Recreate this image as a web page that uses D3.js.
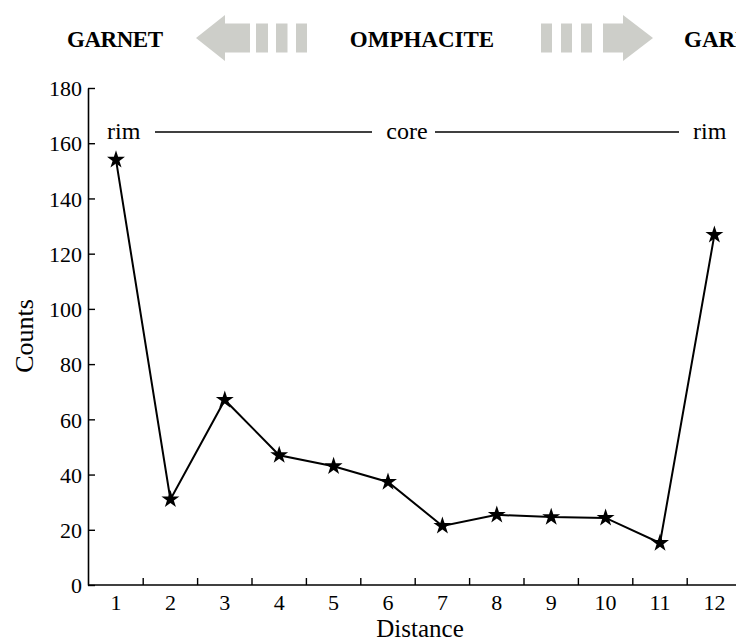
<!DOCTYPE html>
<html><head><meta charset="utf-8">
<script src="https://cdn.jsdelivr.net/npm/d3@7/dist/d3.min.js"></script>
<style>
html,body{margin:0;padding:0;background:#fff;overflow:hidden;}
svg{display:block;}
svg text{font-family:"Liberation Serif","Times New Roman",Times,serif !important;}
</style></head>
<body><svg id="c" width="736" height="641"></svg>
<script>
const distances = [1,2,3,4,5,6,7,8,9,10,11,12];
const counts = [154,31,67,47,43,37.3,21.4,25.4,24.6,24.3,15.2,126.8];
const yTicks = [0,20,40,60,80,100,120,140,160,180];
const headerLabels = ["GARNET","OMPHACITE","GARNET"];
const zoneLabels = ["rim","core","rim"];
const xTitle = "Distance", yTitle = "Counts";

const svg = d3.select("#c");
const mLeft = 88, mBottom = 585, mTop = 88;
const band = 54.4;
const x = d3.scaleBand().domain(distances).range([mLeft + 0.8, mLeft + 0.8 + band*distances.length]).paddingInner(0).paddingOuter(0);
const y = d3.scaleLinear().domain([0,180]).range([mBottom, mTop]);

// header
const hdr = svg.append("g").attr("font-weight","bold").attr("font-size",23).attr("fill","#000");
hdr.append("text").attr("x",67).attr("y",47).attr("textLength",96).text(headerLabels[0]);
hdr.append("text").attr("x",422).attr("y",47).attr("text-anchor","middle").text(headerLabels[1]);
hdr.append("text").attr("x",684).attr("y",47).text(headerLabels[2]);

const grey = "#cdcec9";
const cy = 38;
// left arrow
svg.append("path").attr("fill",grey).attr("d",
  `M196,${cy} L225,${cy-23} L225,${cy-14.5} L250,${cy-14.5} L250,${cy+14.5} L225,${cy+14.5} L225,${cy+23} Z`);
[[256,268],[276,287.5],[296,307]].forEach(b=>svg.append("rect").attr("fill",grey)
  .attr("x",b[0]).attr("y",cy-14.5).attr("width",b[1]-b[0]).attr("height",29));
// right arrow
svg.append("path").attr("fill",grey).attr("d",
  `M653,${cy} L623,${cy-23} L623,${cy-14.5} L603,${cy-14.5} L603,${cy+14.5} L623,${cy+14.5} L623,${cy+23} Z`);
[[541,552],[561,572],[581,592]].forEach(b=>svg.append("rect").attr("fill",grey)
  .attr("x",b[0]).attr("y",cy-14.5).attr("width",b[1]-b[0]).attr("height",29));

// zone labels
const zl = svg.append("g").attr("font-size",24).attr("fill","#000");
zl.append("text").attr("x",107).attr("y",139).text(zoneLabels[0]);
zl.append("text").attr("x",407).attr("y",139).attr("text-anchor","middle").text(zoneLabels[1]);
zl.append("text").attr("x",693).attr("y",139).text(zoneLabels[2]);
svg.append("line").attr("x1",155).attr("x2",372).attr("y1",132).attr("y2",132).attr("stroke","#000").attr("stroke-width",1.6);
svg.append("line").attr("x1",435).attr("x2",679).attr("y1",132).attr("y2",132).attr("stroke","#000").attr("stroke-width",1.6);

// y axis
const yAxis = svg.append("g").attr("transform",`translate(${mLeft},0)`)
  .call(d3.axisLeft(y).tickValues(yTicks).tickSizeInner(-7).tickSizeOuter(0).tickPadding(6));
yAxis.attr("font-family",null);
yAxis.select(".domain").attr("stroke","#000").attr("stroke-width",1.6);
yAxis.selectAll(".tick line").attr("stroke","#000").attr("stroke-width",1.4);
yAxis.selectAll(".tick text").attr("font-size",22).attr("fill","#000").attr("dy","0.35em").attr("x",-6);

// x axis
const xAxis = svg.append("g").attr("transform",`translate(0,${mBottom})`)
  .call(d3.axisBottom(x).tickSize(0).tickPadding(9));
xAxis.attr("font-family",null);
xAxis.select(".domain").attr("d",`M${mLeft},0H736`).attr("stroke","#000").attr("stroke-width",1.6);
xAxis.selectAll(".tick text").attr("font-size",22).attr("fill","#000").attr("dy","0.72em");
// boundary ticks between categories
xAxis.selectAll(".bt").data(distances.slice(1)).enter().append("line")
  .attr("x1",d=>x(d)).attr("x2",d=>x(d)).attr("y1",0).attr("y2",-7)
  .attr("stroke","#000").attr("stroke-width",1.4);

// titles
svg.append("text").attr("x",420).attr("y",637).attr("text-anchor","middle").attr("font-size",25).text(xTitle);
svg.append("text").attr("transform","translate(33,336) rotate(-90)").attr("text-anchor","middle").attr("font-size",26).text(yTitle);

// line + markers
const cx = d => x(d) + x.bandwidth()/2;
const pts = distances.map((d,i)=>[cx(d), y(counts[i])]);
svg.append("path").attr("d", d3.line()(pts)).attr("fill","none").attr("stroke","#000").attr("stroke-width",2);
svg.selectAll(".m").data(pts).enter().append("path")
  .attr("transform",p=>`translate(${p[0]},${p[1]})`)
  .attr("d", d3.symbol().type(d3.symbolStar).size(100)())
  .attr("fill","#000");
</script></body></html>
